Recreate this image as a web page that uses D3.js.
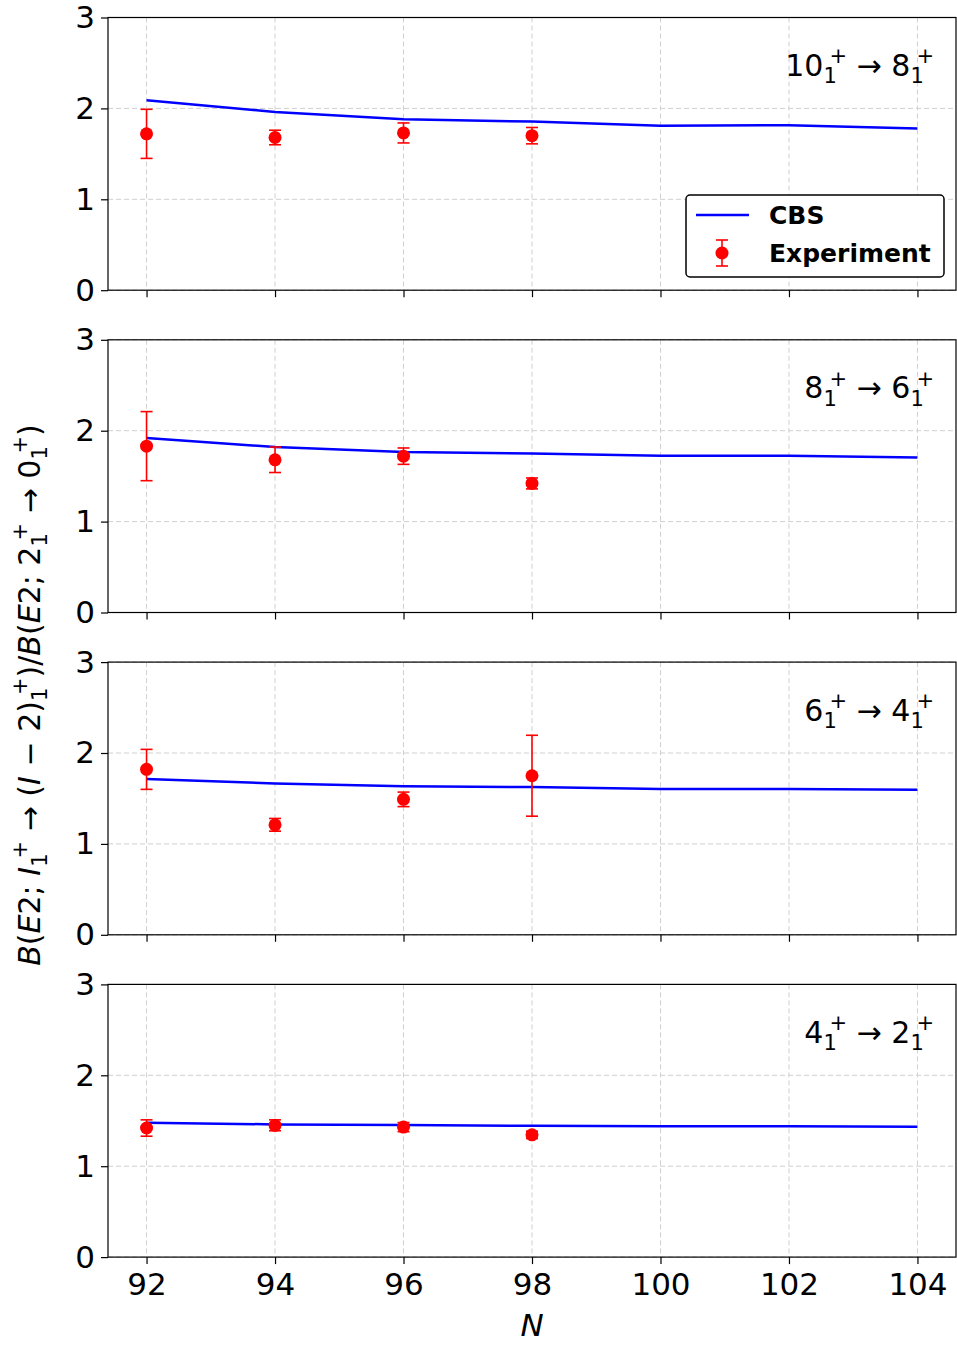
<!DOCTYPE html>
<html>
<head>
<meta charset="utf-8">
<script src="https://cdn.jsdelivr.net/npm/d3@7"></script>
<style>
  body { margin: 0; background: #fff; }
  text { font-family: "DejaVu Sans", sans-serif; }
</style>
</head>
<body>
<svg id="chart" width="957" height="1345"></svg>
<script>
// neutron numbers
const nCBS = [92, 94, 96, 98, 100, 102, 104];
const nExp = [92, 94, 96, 98];

// CBS curves, one per transition
const cbs10 = [2.09, 1.96, 1.88, 1.855, 1.81, 1.815, 1.78];
const cbs8 = [1.92, 1.82, 1.765, 1.75, 1.725, 1.725, 1.705];
const cbs6 = [1.715, 1.665, 1.635, 1.625, 1.605, 1.605, 1.595];
const cbs4 = [1.478, 1.46, 1.452, 1.445, 1.44, 1.44, 1.435];

// experiment + errors
const exp10 = [1.72, 1.68, 1.73, 1.70];
const err10 = [0.27, 0.08, 0.11, 0.09];
const exp8 = [1.83, 1.68, 1.72, 1.42];
const err8 = [0.38, 0.14, 0.09, 0.06];
const exp6 = [1.82, 1.21, 1.49, 1.75];
const err6 = [0.22, 0.07, 0.08, 0.445];
const exp4 = [1.42, 1.45, 1.43, 1.345];
const err4 = [0.09, 0.06, 0.05, 0.04];

const transitions = [["10", "8"], ["8", "6"], ["6", "4"], ["4", "2"]];
const yTicks = [0, 1, 2, 3];

const panels = [
  {cbs: cbs10, exp: exp10, err: err10, tr: transitions[0]},
  {cbs: cbs8, exp: exp8, err: err8, tr: transitions[1]},
  {cbs: cbs6, exp: exp6, err: err6, tr: transitions[2]},
  {cbs: cbs4, exp: exp4, err: err4, tr: transitions[3]}
];

const left = 108, right = 956;
const top0 = 17.5, step = 322.3, panelH = 272.7;
const tickFs = 31, noteFs = 30;
const blue = "#0000ff", red = "#ff0000", gridColor = "#d0d0d0";

const svg = d3.select("#chart");

const x = d3.scaleLinear().domain([91.4, 104.6]).range([left, right]);

// math-ish text: strings upright, {i:..} italic, {sup, sub} stacked scripts
const wPlus = 0.838, wOne = 0.636;
function mathText(sel, parts, fs) {
  let off = 0, pending = 0;
  parts.forEach(p => {
    if (typeof p === "string" || p.i) {
      const ts = sel.append("tspan")
        .text(typeof p === "string" ? p : p.i)
        .attr("dy", -off)
        .attr("dx", pending);
      if (p.i) ts.style("font-style", "italic");
      off = 0; pending = 0;
    } else {
      const s = fs * 0.7;
      const shift = (p.shift || 0.2) * fs;
      sel.append("tspan").text(p.sup)
        .style("font-size", s + "px")
        .attr("dx", pending + shift)
        .attr("dy", -0.42 * fs - off);
      sel.append("tspan").text(p.sub)
        .style("font-size", s + "px")
        .attr("dx", -(wPlus * s + shift))
        .attr("dy", 0.42 * fs + 0.24 * fs);
      off = 0.24 * fs;
      pending = shift + (wPlus - wOne) * s;
    }
  });
}

const ss = {sup: "+", sub: "1"};
const ssI = {sup: "+", sub: "1", shift: 0.28};

panels.forEach((p, k) => {
  const top = top0 + k * step;
  const bottom = top + panelH;
  const y = d3.scaleLinear().domain([0, 3]).range([bottom, top]);
  const g = svg.append("g");

  // grid
  g.selectAll(".vgrid")
    .data(nCBS)
    .enter()
    .append("line")
      .attr("x1", d => x(d)).attr("x2", d => x(d))
      .attr("y1", top).attr("y2", bottom)
      .style("stroke", gridColor)
      .style("stroke-width", 1)
      .style("stroke-dasharray", "5,3");
  g.selectAll(".hgrid")
    .data(yTicks)
    .enter()
    .append("line")
      .attr("x1", left).attr("x2", right)
      .attr("y1", d => y(d)).attr("y2", d => y(d))
      .style("stroke", gridColor)
      .style("stroke-width", 1)
      .style("stroke-dasharray", "5,3");

  // CBS line
  g.append("path")
    .datum(nCBS.map((n, i) => [n, p.cbs[i]]))
    .attr("d", d3.line().x(d => x(d[0])).y(d => y(d[1])))
    .style("fill", "none")
    .style("stroke", blue)
    .style("stroke-width", 2.5);

  // experiment with error bars
  const ed = nExp.map((n, i) => ({n: n, v: p.exp[i], e: p.err[i]}));
  g.selectAll(".eb")
    .data(ed)
    .enter()
    .append("line")
      .attr("x1", d => x(d.n)).attr("x2", d => x(d.n))
      .attr("y1", d => y(d.v - d.e)).attr("y2", d => y(d.v + d.e))
      .style("stroke", red).style("stroke-width", 1.6);
  [1, -1].forEach(sgn => {
    g.selectAll(".cap")
      .data(ed)
      .enter()
      .append("line")
        .attr("x1", d => x(d.n) - 6).attr("x2", d => x(d.n) + 6)
        .attr("y1", d => y(d.v + sgn * d.e)).attr("y2", d => y(d.v + sgn * d.e))
        .style("stroke", red).style("stroke-width", 1.6);
  });
  g.selectAll(".pt")
    .data(ed)
    .enter()
    .append("circle")
      .attr("cx", d => x(d.n))
      .attr("cy", d => y(d.v))
      .attr("r", 6.5)
      .style("fill", red);

  // axes
  const ya = g.append("g")
    .attr("transform", `translate(${left},0)`)
    .call(d3.axisLeft(y).tickValues(yTicks).tickSize(7).tickSizeOuter(0).tickPadding(6)
      .tickFormat(d3.format("d")));
  ya.select(".domain").remove();
  ya.selectAll("text").style("font-size", tickFs + "px").style("font-family", "DejaVu Sans");

  const xa = g.append("g")
    .attr("transform", `translate(0,${bottom})`)
    .call(d3.axisBottom(x).tickValues(nCBS).tickSize(7).tickSizeOuter(0).tickPadding(9)
      .tickFormat(k === 3 ? d3.format("d") : ""));
  xa.select(".domain").remove();
  xa.selectAll("text").style("font-size", tickFs + "px").style("font-family", "DejaVu Sans");
  g.selectAll(".tick line").style("stroke-width", 1.2);

  // frame
  g.append("rect")
    .attr("x", left).attr("y", top)
    .attr("width", right - left).attr("height", panelH)
    .style("fill", "none")
    .style("stroke", "#000")
    .style("stroke-width", 1.2);

  // transition label
  const t = g.append("text")
    .attr("x", 934)
    .attr("y", top + 58.5)
    .style("font-size", noteFs + "px")
    .style("text-anchor", "end");
  mathText(t, [p.tr[0], ss, " \u2192 ", p.tr[1], ss], noteFs);
});

// legend in the top panel
const lg = svg.append("g");
lg.append("rect")
  .attr("x", 686).attr("y", 195)
  .attr("width", 258).attr("height", 82)
  .attr("rx", 4)
  .style("fill", "#fff")
  .style("stroke", "#000")
  .style("stroke-width", 1.5);
lg.append("line")
  .attr("x1", 696).attr("x2", 749)
  .attr("y1", 215).attr("y2", 215)
  .style("stroke", blue).style("stroke-width", 2.5);
lg.append("line")
  .attr("x1", 722).attr("x2", 722)
  .attr("y1", 240).attr("y2", 266)
  .style("stroke", red).style("stroke-width", 1.6);
[240, 266].forEach(yy => {
  lg.append("line")
    .attr("x1", 716).attr("x2", 728)
    .attr("y1", yy).attr("y2", yy)
    .style("stroke", red).style("stroke-width", 1.6);
});
lg.append("circle").attr("cx", 722).attr("cy", 253).attr("r", 6.5).style("fill", red);
lg.append("text").attr("x", 769).attr("y", 224)
  .text("CBS").style("font-size", "25px").style("font-weight", "bold");
lg.append("text").attr("x", 769).attr("y", 262)
  .text("Experiment").style("font-size", "25px").style("font-weight", "bold");

// axis titles
svg.append("text")
  .attr("x", x(98))
  .attr("y", 1336)
  .text("N")
  .style("font-size", "31px")
  .style("font-style", "italic")
  .style("text-anchor", "middle");

const yl = svg.append("text")
  .attr("transform", "translate(40,695) rotate(-90)")
  .style("font-size", "30px")
  .style("text-anchor", "middle");
mathText(yl, [{i: "B"}, "(", {i: "E"}, "2; ", {i: "I"}, ssI, " \u2192 (", {i: "I"}, " \u2212 2)", ss,
  ")/", {i: "B"}, "(", {i: "E"}, "2; 2", ss, " \u2192 0", ss, ")"], 30);
</script>
</body>
</html>
